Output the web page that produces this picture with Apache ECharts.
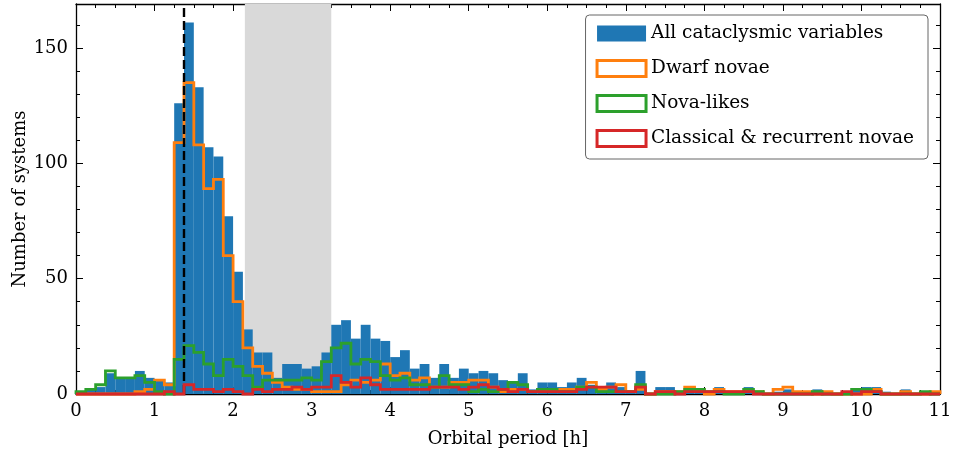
<!DOCTYPE html>
<html>
<head>
<meta charset="utf-8">
<script src="https://cdn.jsdelivr.net/npm/echarts@6/dist/echarts.min.js"></script>
<style>
html, body { margin: 0; padding: 0; background: #fff; }
#chart { width: 953px; height: 450px; }
</style>
</head>
<body>
<div id="chart"></div>
<script>
// histogram bins: 0 to 11 h, 0.125 h wide
const binStart = 0;
const binWidth = 0.125;

const allCV = [
    1, 2, 3, 9, 7, 7, 10, 7, 6, 5,
    126, 161, 133, 107, 103, 77, 53, 28, 18, 18,
    7, 13, 13, 11, 12, 18, 30, 32, 24, 30,
    24, 23, 16, 19, 11, 13, 7, 13, 7, 11,
    9, 10, 9, 6, 5, 9, 2, 5, 5, 3,
    5, 7, 4, 3, 5, 3, 1, 10, 0, 3,
    3, 1, 2, 2, 1, 3, 1, 1, 3, 1,
    0, 1, 2, 1, 0, 2, 0, 0, 1, 2,
    3, 3, 1, 0, 2, 0, 1, 0
];
const dwarfNovae = [
    0, 0, 0, 0, 0, 0, 1, 2, 6, 4,
    109, 135, 108, 89, 93, 60, 40, 20, 12, 9,
    5, 3, 2, 2, 1, 1, 1, 4, 6, 5,
    6, 13, 8, 9, 6, 7, 3, 3, 5, 5,
    6, 6, 3, 1, 2, 2, 1, 2, 1, 2,
    2, 3, 5, 2, 3, 4, 1, 2, 0, 1,
    1, 1, 3, 2, 0, 2, 1, 1, 1, 1,
    0, 2, 3, 1, 1, 0, 1, 0, 0, 0,
    0, 2, 0, 0, 1, 0, 0, 1
];
const novaLikes = [
    1, 2, 4, 10, 7, 7, 8, 5, 1, 0,
    15, 21, 18, 13, 8, 15, 12, 8, 3, 6,
    6, 6, 6, 7, 6, 14, 20, 22, 13, 15,
    14, 8, 6, 7, 4, 4, 3, 8, 4, 4,
    1, 2, 1, 2, 5, 4, 1, 2, 2, 1,
    1, 3, 3, 1, 1, 1, 1, 4, 0, 0,
    0, 1, 2, 2, 1, 1, 0, 0, 2, 1,
    0, 0, 0, 0, 0, 1, 0, 0, 0, 2,
    2, 1, 0, 0, 0, 0, 1, 0
];
const classicalNovae = [
    0, 0, 0, 0, 0, 0, 0, 0, 0, 1,
    0, 4, 2, 2, 1, 2, 1, 0, 2, 1,
    2, 2, 3, 2, 3, 3, 8, 5, 3, 7,
    4, 2, 2, 2, 2, 2, 3, 3, 3, 2,
    3, 4, 3, 2, 1, 2, 1, 1, 1, 1,
    1, 2, 3, 3, 3, 1, 1, 3, 0, 1,
    1, 0, 1, 1, 1, 1, 1, 1, 1, 0,
    0, 0, 0, 0, 0, 0, 0, 0, 1, 0,
    1, 1, 0, 0, 0, 0, 0, 0
];

const periodGap = [2.15, 3.25];
const periodMinimum = 1.37;
const xTicks = [0, 1, 2, 3, 4, 5, 6, 7, 8, 9, 10, 11];
const yTicks = [0, 50, 100, 150];
const xMax = 11;
const yMax = 169.05;

const FONT = 'DejaVu Serif';

function binRows(counts) {
    return counts.map(function (c, i) {
        return [binStart + i * binWidth, binStart + (i + 1) * binWidth, c];
    });
}

function stepPoints(counts) {
    let pts = [[binStart, 0]];
    counts.forEach(function (c, i) {
        pts.push([binStart + i * binWidth, c]);
        pts.push([binStart + (i + 1) * binWidth, c]);
    });
    pts.push([binStart + counts.length * binWidth, 0]);
    return pts;
}

function stepSeries(name, counts, color, z) {
    return {
        name: name,
        type: 'line',
        data: stepPoints(counts),
        symbol: 'none',
        showSymbol: false,
        clip: false,
        z: z,
        lineStyle: { color: color, width: 2.8, join: 'miter' },
        itemStyle: { color: color },
        emphasis: { disabled: true }
    };
}

function axis(kind, position, gridIndex, minor) {
    let isX = kind === 'x';
    let a = {
        type: 'value',
        gridIndex: gridIndex,
        position: position,
        min: 0,
        max: isX ? xMax : yMax,
        axisLine: { show: !minor, onZero: false, lineStyle: { color: '#000', width: 1.3 } },
        splitLine: { show: false },
        axisTick: { show: true, inside: true, length: minor ? 4 : 7, lineStyle: { color: '#000', width: 1 } },
        axisLabel: { show: false }
    };
    if (minor) {
        a.interval = isX ? 0.25 : 10;
    } else {
        a.axisTick.customValues = isX ? xTicks : yTicks;
        a.axisLabel.customValues = isX ? xTicks : yTicks;
    }
    return a;
}

let xMain = axis('x', 'bottom', 0, false);
xMain.axisLabel = {
    show: true, customValues: xTicks, color: '#000',
    fontFamily: FONT, fontSize: 18, margin: 8
};
xMain.name = 'Orbital period [h]';
xMain.nameLocation = 'middle';
xMain.nameGap = 36;
xMain.nameTextStyle = { color: '#000', fontFamily: FONT, fontSize: 18 };

let yMain = axis('y', 'left', 0, false);
yMain.axisLabel = {
    show: true, customValues: yTicks, color: '#000',
    fontFamily: FONT, fontSize: 18, margin: 8
};
yMain.name = 'Number of systems';
yMain.nameLocation = 'middle';
yMain.nameGap = 47;
yMain.nameMoveOverlap = false;
yMain.nameTextStyle = { color: '#000', fontFamily: FONT, fontSize: 18 };

const gridBox = { left: 76, right: 13, top: 4, bottom: 56, outerBoundsMode: 'none', containLabel: false };

var myChart = echarts.init(document.getElementById('chart'), null, { renderer: 'canvas' });

var option = {
    animation: false,
    backgroundColor: '#fff',
    grid: [
        Object.assign({}, gridBox),
        Object.assign({}, gridBox)
    ],
    xAxis: [
        xMain,
        axis('x', 'top', 0, false),
        axis('x', 'bottom', 1, true),
        axis('x', 'top', 1, true)
    ],
    yAxis: [
        yMain,
        axis('y', 'right', 0, false),
        axis('y', 'left', 1, true),
        axis('y', 'right', 1, true)
    ],
    legend: {
        orient: 'vertical',
        right: 25,
        top: 15,
        padding: [9, 14, 11, 10],
        itemWidth: 49,
        itemHeight: 16,
        itemGap: 16,
        backgroundColor: '#fff',
        borderColor: '#666',
        borderWidth: 1,
        borderRadius: 4,
        selectedMode: false,
        textStyle: { color: '#000', fontFamily: FONT, fontSize: 18.5, lineHeight: 16 },
        data: [
            { name: 'All cataclysmic variables', icon: 'rect', itemStyle: { color: '#1f77b4' } },
            { name: 'Dwarf novae', icon: 'rect', itemStyle: { color: '#fff', borderColor: '#ff7f0e', borderWidth: 3 } },
            { name: 'Nova-likes', icon: 'rect', itemStyle: { color: '#fff', borderColor: '#2ca02c', borderWidth: 3 } },
            { name: 'Classical & recurrent novae', icon: 'rect', itemStyle: { color: '#fff', borderColor: '#d62728', borderWidth: 3 } }
        ]
    },
    series: [
        {
            name: 'gap',
            type: 'line',
            data: [],
            z: 1,
            markArea: {
                silent: true,
                itemStyle: { color: '#d9d9d9' },
                data: [[{ xAxis: periodGap[0] }, { xAxis: periodGap[1] }]]
            }
        },
        {
            name: 'All cataclysmic variables',
            type: 'custom',
            z: 2,
            data: binRows(allCV),
            encode: { x: [0, 1], y: 2 },
            itemStyle: { color: '#1f77b4' },
            renderItem: function (params, api) {
                let top = api.coord([api.value(0), api.value(2)]);
                let bottom = api.coord([api.value(1), 0]);
                return {
                    type: 'rect',
                    shape: { x: top[0], y: top[1], width: bottom[0] - top[0], height: bottom[1] - top[1] },
                    style: { fill: '#1f77b4' }
                };
            }
        },
        stepSeries('Dwarf novae', dwarfNovae, '#ff7f0e', 3),
        stepSeries('Nova-likes', novaLikes, '#2ca02c', 4),
        stepSeries('Classical & recurrent novae', classicalNovae, '#d62728', 5),
        {
            name: 'minimum',
            type: 'line',
            data: [],
            z: 6,
            markLine: {
                silent: true,
                symbol: 'none',
                label: { show: false },
                lineStyle: { color: '#000', width: 2.4, type: [9, 4] },
                data: [{ xAxis: periodMinimum }]
            }
        }
    ]
};

myChart.setOption(option);
</script>
</body>
</html>
